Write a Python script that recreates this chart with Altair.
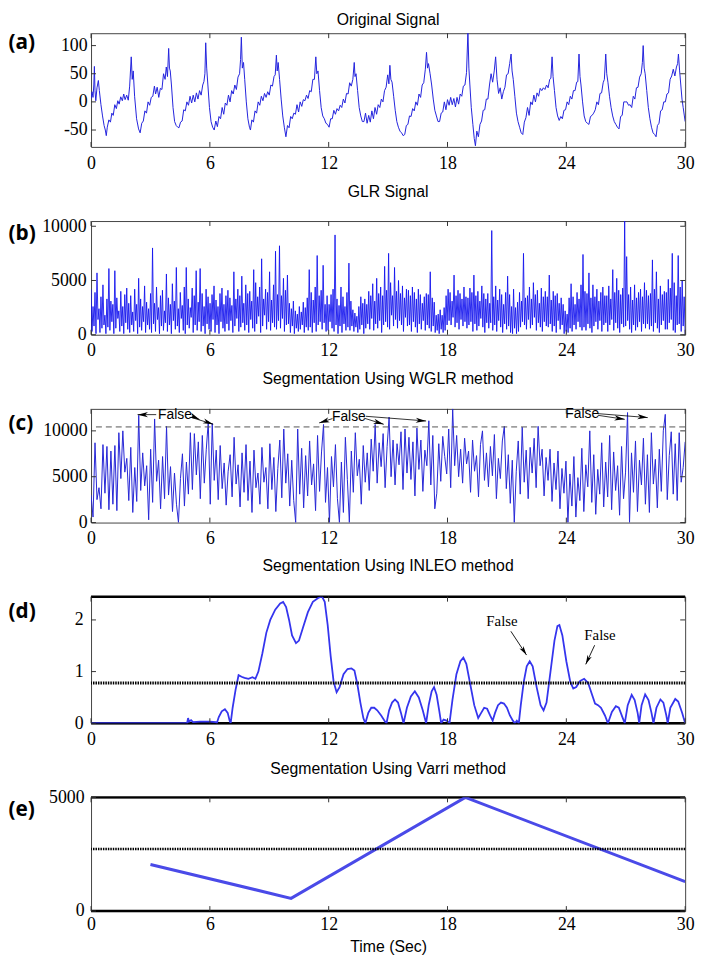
import altair as alt
import numpy as np
import pandas as pd

W = 601
X_TICKS = [0, 6, 12, 18, 24, 30]

# ---------------- (a) Original signal: [time s, amplitude] ----------------
ORIGINAL = [
    [0.00, 5], [0.05, 18], [0.10, 8], [0.14, 30], [0.17, 63], [0.20, 20], [0.24, 2], [0.30, 25], [0.37, 38], [0.42, 20],
    [0.50, -5], [0.58, -25], [0.66, -42], [0.72, -50], [0.77, -60], [0.82, -45], [0.90, -32], [0.98, -36], [1.05, -20],
    [1.12, -24], [1.20, -5], [1.28, -12], [1.35, 2], [1.42, -4], [1.50, 9], [1.58, 2], [1.65, 14], [1.72, 4], [1.80, 12],
    [1.88, 3], [1.95, 28], [2.03, 80], [2.08, 40], [2.13, 55], [2.20, 10], [2.30, -30], [2.40, -48], [2.48, -55],
    [2.56, -38], [2.64, -34], [2.72, -16], [2.80, -20], [2.88, 0], [2.96, -6], [3.04, 8], [3.12, 10], [3.20, 28],
    [3.26, 14], [3.34, 26], [3.42, 8], [3.50, 24], [3.58, 22], [3.66, 50], [3.74, 40], [3.80, 62], [3.86, 45],
    [3.92, 95], [3.96, 60], [4.00, 55], [4.06, 30], [4.14, -10], [4.22, -35], [4.30, -42], [4.38, -45], [4.44, -46],
    [4.52, -36], [4.60, -34], [4.68, -14], [4.76, -16], [4.84, 0], [4.92, -6], [5.00, 10], [5.08, -2], [5.16, 12],
    [5.24, 0], [5.32, 16], [5.40, 5], [5.48, 20], [5.56, 12], [5.64, 30], [5.70, 36], [5.75, 50], [5.79, 105],
    [5.84, 60], [5.90, 30], [5.98, -10], [6.06, -35], [6.14, -45], [6.22, -50],
    [6.30, -34], [6.38, -44], [6.46, -26], [6.54, -30], [6.62, -10], [6.70, -22], [6.78, -2], [6.86, -6], [6.94, 12],
    [7.02, 0], [7.10, 20], [7.18, 14], [7.26, 30], [7.34, 22], [7.42, 44], [7.50, 50], [7.55, 75], [7.59, 115],
    [7.64, 60], [7.70, 70], [7.76, 40], [7.84, 0], [7.92, -30], [8.00, -45], [8.05, -50],
    [8.12, -32], [8.20, -36], [8.28, -16], [8.36, -20], [8.44, 0], [8.52, -6], [8.60, 10], [8.68, 2], [8.76, 15],
    [8.84, 8], [8.92, 18], [9.00, 12], [9.08, 30], [9.16, 28], [9.24, 45], [9.30, 48], [9.36, 83], [9.40, 55],
    [9.45, 70], [9.52, 40], [9.60, 5], [9.68, -25], [9.76, -45], [9.84, -62],
    [9.92, -42], [10.00, -46], [10.08, -26], [10.16, -30], [10.24, -20], [10.32, -22], [10.40, -5], [10.48, -18],
    [10.56, 0], [10.64, -8], [10.72, 4], [10.80, 2], [10.88, 12], [10.96, 6], [11.04, 20], [11.12, 18], [11.20, 40],
    [11.28, 40], [11.35, 80], [11.40, 50], [11.46, 55], [11.54, 20], [11.62, -10], [11.70, -25], [11.78, -30],
    [11.86, -38], [11.94, -40], [12.02, -45],
    [12.10, -30], [12.18, -30], [12.26, -15], [12.34, -22], [12.42, -12], [12.50, -16], [12.58, -6], [12.66, -10],
    [12.74, 5], [12.82, -2], [12.90, 15], [12.98, 14], [13.06, 34], [13.14, 28], [13.22, 40], [13.29, 70], [13.33, 45],
    [13.38, 50], [13.46, 20], [13.54, -10], [13.62, -25], [13.70, -35], [13.78, -35],
    [13.86, -20], [13.94, -38], [14.02, -24], [14.10, -36], [14.18, -16], [14.26, -30], [14.34, -10], [14.42, -22],
    [14.50, -5], [14.58, -10], [14.66, 5], [14.74, 0], [14.82, 20], [14.90, 26], [14.98, 48], [15.04, 32], [15.09, 65],
    [15.14, 40], [15.20, 35], [15.28, 10], [15.36, -15], [15.44, -35], [15.52, -45], [15.60, -52], [15.68, -55],
    [15.76, -60], [15.84, -58],
    [15.92, -42], [16.00, -40], [16.08, -25], [16.16, -26], [16.24, -12], [16.32, -16], [16.40, 0], [16.48, -6],
    [16.56, 14], [16.64, 8], [16.72, 30], [16.80, 34], [16.88, 58], [16.94, 88], [16.99, 60], [17.04, 68],
    [17.12, 50], [17.20, 30], [17.28, 5], [17.36, -15], [17.44, -25], [17.52, -35], [17.60, -35],
    [17.68, -20], [17.76, -18], [17.84, 0], [17.92, -14], [18.00, 4], [18.08, -6], [18.16, 8], [18.24, -5], [18.32, 6],
    [18.40, -9], [18.48, 8], [18.56, -4], [18.64, 14], [18.72, 10], [18.80, 28], [18.88, 30], [18.96, 52], [19.03, 125],
    [19.08, 60], [19.13, 30], [19.20, -10], [19.28, -40], [19.35, -65], [19.41, -78],
    [19.48, -52], [19.56, -62], [19.64, -40], [19.72, -34], [19.80, -15], [19.88, -14], [19.96, 5], [20.04, 5],
    [20.12, 30], [20.20, 50], [20.28, 35], [20.36, 55], [20.43, 80], [20.50, 40], [20.58, 15], [20.66, 25], [20.74, 5],
    [20.82, 18], [20.90, 26], [20.98, 48], [21.06, 50], [21.14, 68], [21.21, 85], [21.26, 55], [21.32, 40],
    [21.40, 10], [21.48, -20], [21.56, -35], [21.64, -45], [21.72, -55], [21.80, -58],
    [21.88, -36], [21.96, -28], [22.04, -10], [22.12, -24], [22.20, 0], [22.28, -5], [22.36, 12], [22.44, 0],
    [22.52, 16], [22.60, 10], [22.68, 24], [22.76, 20], [22.84, 25], [22.92, 22], [23.00, 30], [23.08, 25], [23.16, 40],
    [23.22, 42], [23.28, 80], [23.33, 45], [23.40, 20], [23.48, -10], [23.56, -25], [23.64, -33],
    [23.72, -26], [23.80, -30], [23.88, -15], [23.96, -14], [24.04, 0], [24.12, -5], [24.20, 10], [24.28, 5],
    [24.36, 20], [24.44, 20], [24.52, 35], [24.58, 36], [24.64, 85], [24.69, 45], [24.74, 30], [24.82, 0],
    [24.90, -25], [24.98, -35], [25.06, -38], [25.14, -40],
    [25.22, -26], [25.30, -24], [25.38, -20], [25.46, -14], [25.54, 0], [25.62, -5], [25.70, 15], [25.78, 16],
    [25.86, 34], [25.92, 40], [25.99, 85], [26.04, 50], [26.10, 35], [26.18, 10], [26.26, -10], [26.34, -25],
    [26.42, -35], [26.50, -40], [26.58, -45], [26.66, -48],
    [26.74, -26], [26.82, -24], [26.90, 0], [26.98, 0], [27.06, 0], [27.14, -6], [27.22, -5], [27.30, -10],
    [27.38, 10], [27.46, 5], [27.54, 25], [27.62, 26], [27.70, 44], [27.78, 50], [27.84, 70], [27.88, 100],
    [27.93, 60], [27.98, 50], [28.06, 20], [28.14, -10], [28.22, -30], [28.30, -45], [28.38, -55], [28.46, -58],
    [28.53, -62],
    [28.60, -42], [28.68, -38], [28.76, -16], [28.84, -14], [28.92, 0], [29.00, 0], [29.08, 14], [29.16, 16],
    [29.24, 40], [29.32, 46], [29.40, 58], [29.48, 46], [29.56, 62], [29.62, 68], [29.66, 85], [29.72, 55],
    [29.78, 30], [29.84, 5], [29.90, -10], [29.96, -25], [30.00, -35],
]

# ---------------- (b) GLR signal, 20 samples per second ----------------
GLR = [
    4200, 300, 2600, 800, 3900, 100, 5700, 1400, 2400, 200, 3500, 600, 4600, 900, 1800, 100, 3300, 700, 6100, 400,
    3100, 1200, 2800, 100, 5900, 600, 3400, 1500, 2200, 300, 4000, 800, 2600, 100, 3700, 1100, 4300, 500, 2900, 200,
    3600, 900, 2100, 300, 4200, 1300, 2800, 100, 5200, 700, 3300, 400, 2600, 1200, 4500, 200, 3000, 900, 2400, 500,
    3800, 200, 8000, 1000, 2900, 300, 4400, 1400, 2500, 100, 3600, 800, 4100, 400, 2200, 1100, 5600, 300, 3400, 900,
    2800, 100, 4700, 1300, 3100, 500, 6200, 800, 2400, 200, 3900, 1500, 2700, 400, 4400, 100, 6200, 900, 3300, 600,
    2500, 1600, 4300, 200, 3600, 900, 5900, 400, 3000, 1200, 6100, 300, 3800, 800, 2600, 100, 4200, 1000, 3500, 500,
    2900, 300, 3700, 1400, 4500, 200, 3200, 900, 2600, 100, 3800, 1200, 4300, 600, 2800, 300, 3600, 1000, 4100, 400,
    3400, 1300, 2700, 200, 5800, 800, 3300, 1500, 4200, 300, 3600, 700, 5400, 1100, 2900, 400, 4600, 900, 3800, 200,
    4000, 1400, 3100, 600, 6000, 300, 4800, 1000, 3500, 1700, 4400, 200, 7000, 800, 3300, 1800, 4200, 500, 3900, 1200,
    5800, 400, 3200, 1100, 4600, 700, 7700, 500, 3700, 1300, 8200, 600, 3600, 1500, 5200, 300, 4100, 900, 5500, 1000,
    2900, 200, 2400, 800, 3100, 100, 2200, 600, 1900, 300, 2600, 500, 2100, 900, 3000, 200, 2500, 700, 3400, 400,
    6000, 700, 3900, 200, 3200, 1100, 4400, 300, 7300, 900, 3600, 1200, 4100, 500, 6400, 1100, 2800, 300, 3600, 400,
    2800, 1200, 3700, 600, 4200, 300, 9200, 900, 3300, 100, 2700, 800, 4400, 200, 3500, 1000, 2600, 400, 3900, 700,
    6600, 400, 3100, 800, 2300, 300, 2000, 700, 1700, 200, 2600, 500, 3500, 900, 2900, 100, 3300, 600, 2800, 1000,
    4000, 500, 3600, 1500, 4700, 400, 3100, 1000, 5200, 600, 3800, 1300, 4400, 200, 3600, 900, 6300, 1200, 4100, 700,
    7500, 500, 4800, 1800, 3600, 800, 6200, 1400, 4000, 600, 5000, 1300, 3800, 900, 4500, 300, 3400, 1600, 4200, 800,
    4100, 900, 3600, 300, 4400, 1200, 3900, 700, 3300, 200, 4200, 1000, 3700, 500, 2900, 1300, 3500, 400, 3800, 900,
    3700, 600, 5800, 300, 3400, 800, 3000, 200, 1800, 400, 1900, 100, 2300, 500, 1800, 200, 2500, 400, 3600, 900,
    4200, 1300, 3900, 900, 3100, 1600, 5500, 700, 3600, 1100, 4100, 500, 3800, 1400, 3300, 800, 4400, 1200, 3500, 600,
    3400, 900, 4300, 1200, 3900, 300, 5500, 1000, 3600, 400, 4000, 800, 3100, 1500, 4500, 700, 3800, 200, 3300, 1100,
    3800, 600, 2900, 1100, 9600, 400, 3500, 900, 4500, 300, 3200, 1300, 4200, 700, 3700, 200, 2800, 1000, 3900, 500,
    5400, 800, 3700, 200, 2600, 100, 4200, 600, 2500, 100, 3000, 300, 3900, 700, 3100, 1200, 7500, 900, 3400, 500,
    3600, 1400, 4400, 600, 3300, 900, 4800, 1600, 3700, 400, 4100, 1100, 2900, 700, 4300, 300, 3500, 1200, 4000, 800,
    3500, 700, 5500, 1000, 3200, 300, 4000, 800, 3600, 200, 3800, 1300, 2900, 500, 3400, 900, 2800, 100, 2200, 300,
    1900, 200, 3400, 600, 4700, 300, 3500, 900, 2800, 500, 3900, 1200, 3300, 700, 4600, 400, 7400, 700, 4000, 400,
    3800, 1000, 5700, 600, 3400, 200, 4600, 800, 3500, 1200, 4200, 500, 3100, 1300, 3900, 300, 4400, 900, 3600, 1100,
    3600, 300, 4500, 900, 3300, 1400, 6000, 400, 3900, 1100, 5200, 600, 4100, 200, 3700, 1000, 4300, 700, 10500, 800,
    7200, 1300, 3700, 500, 4400, 200, 3200, 900, 4600, 400, 3400, 700, 3900, 1200, 4200, 300, 3500, 1000, 4800, 600,
    4100, 1000, 3600, 500, 3800, 800, 6900, 300, 4200, 1100, 5800, 600, 3300, 200, 4500, 900, 3700, 1300, 4000, 500,
    3900, 500, 5100, 1100, 4300, 1400, 7500, 400, 4800, 200, 3600, 900, 7300, 1000, 4400, 300, 5000, 800, 3500, 0,
]

# ---------------- (c) WGLR segmentation, 10 samples per second ----------------
WGLR = [
    3000, 600, 8700, 2500, 3800, 1500, 8500, 3200, 8300, 1400,
    7800, 2000, 8400, 1300, 9800, 4800, 10000, 5500, 7000, 2400,
    8200, 1100, 6000, 2300, 11700, 3500, 7600, 4000, 6200, 300,
    8000, 2200, 11300, 4500, 6800, 1500, 7200, 2600, 10500, 3000,
    6100, 1200, 5400, 2000, 0, 4800, 7500, 1800, 6600, 3100,
    9800, 3600, 9700, 5200, 8800, 2600, 9500, 4300, 8000, 11000,
    2000, 10800, 4600, 7900, 2500, 8400, 3700, 6500, 1900, 5600,
    7400, 2800, 9300, 4200, 6300, 1700, 7600, 3300, 8500, 2400,
    6700, 1100, 7900, 3800, 5400, 2000, 8200, 4400, 6000, 1500,
    8600, 3600, 7100, 1200, 5900, 9000, 2700, 10200, 4300, 7500,
    1800, 6800, 2400, 0, 10200, 3100, 8100, 1600, 7300, 2900,
    8900, 4100, 6400, 1300, 9500, 3400, 7700, 10700, 2200, 6000,
    0, 7200, 3900, 8500, 2600, 0, 6600, 1100, 9300, 4700,
    0, 7800, 3300, 9800, 5100, 6900, 2000, 8400, 4400, 7600,
    3500, 9100, 5600, 10700, 4300, 8700, 6100, 9700, 3800, 8300,
    11500, 5000, 9000, 4100, 8600, 6300, 9900, 3600, 10200, 5400,
    9300, 4700, 8800, 2900, 10300, 5800, 9000, 3400, 7900, 6200,
    11100, 4100, 9500, 1500, 3200, 8600, 4500, 9400, 7200, 5300,
    10200, 3800, 12400, 6200, 9500, 5000, 8000, 4300, 9200, 6400,
    7800, 3300, 9000, 5600, 7300, 2800, 8500, 10000, 4600, 7600,
    3900, 8300, 5100, 9600, 2600, 7000, 4800, 8900, 10500, 3700,
    7400, 2100, 6800, 0, 5600, 8900, 3100, 10400, 4400, 7900,
    2600, 8200, 5400, 9200, 3800, 10500, 6200, 8000, 2900, 7100,
    4600, 8000, 2300, 6500, 3600, 7800, 1500, 5900, 3200, 6700,
    0, 5300, 1800, 7200, 600, 4900, 2400, 8100, 1200, 6300,
    3900, 10000, 2200, 7400, 900, 5800, 3100, 8700, 1700, 6600,
    2800, 9500, 1400, 7700, 3500, 6200, 800, 8300, 2600, 5500,
    12000, 0, 7600, 3300, 8900, 1200, 6800, 4100, 9200, 2000,
    7400, 1100, 9800, 4200, 6900, 1600, 8000, 3400, 10000, 11800,
    2500, 7300, 9900, 3100, 8600, 2400, 9800, 4400, 6000, 8800,
]
WGLR_THRESHOLD = 10430

# annotations (c): label position, and arrows [t_tail, v_tail, t_tip, v_tip, angle_deg]
C_LABELS_T = [4.24, 13.02, 24.80]
C_LABELS_V = [11771, 11510, 11880]
C_ARROWS = [
    [3.29, 11771, 2.35, 11771, 180],
    [5.09, 11620, 5.48, 11230, 25],
    [5.09, 11450, 6.17, 10720, 19],
    [12.19, 11340, 11.52, 10870, 162],
    [13.77, 11400, 14.78, 10720, 17],
    [13.88, 11590, 16.92, 11080, 4],
    [25.59, 11700, 26.95, 11260, 8],
    [25.59, 11880, 28.11, 11450, 5],
]

# ---------------- (d) INLEO segmentation ----------------
INLEO = [
    [0, 0], [4.85, 0], [4.9, 0.1], [4.95, 0.03], [5.05, 0.06], [5.15, 0.02], [5.5, 0.03], [6.0, 0.03], [6.3, 0.02],
    [6.35, 0], [6.45, 0.12], [6.6, 0.23], [6.76, 0.27], [6.9, 0.2], [7.0, 0.05], [7.05, 0],
    [7.15, 0.3], [7.3, 0.65], [7.45, 0.93], [7.6, 0.9], [7.75, 0.88], [7.95, 0.86], [8.15, 0.89], [8.3, 0.86],
    [8.45, 1.0], [8.65, 1.35], [8.85, 1.75], [9.05, 2.0], [9.3, 2.2], [9.55, 2.32], [9.7, 2.35], [9.85, 2.25],
    [10.0, 2.0], [10.15, 1.7], [10.35, 1.55], [10.5, 1.6], [10.7, 1.85], [10.95, 2.15], [11.2, 2.35], [11.45, 2.42],
    [11.65, 2.46], [11.8, 2.35], [11.95, 1.9], [12.1, 1.3], [12.25, 0.8], [12.4, 0.6], [12.55, 0.7], [12.75, 0.95],
    [12.95, 1.05], [13.15, 1.06], [13.3, 1.02], [13.45, 0.75], [13.6, 0.4], [13.75, 0.1], [13.85, 0],
    [14.0, 0.2], [14.15, 0.3], [14.3, 0.3], [14.45, 0.25], [14.65, 0.15], [14.85, 0.03], [14.92, 0],
    [15.05, 0.25], [15.2, 0.4], [15.35, 0.46], [15.5, 0.4], [15.65, 0.2], [15.78, 0],
    [15.95, 0.3], [16.15, 0.52], [16.35, 0.62], [16.55, 0.5], [16.75, 0.25], [16.92, 0],
    [17.05, 0.35], [17.2, 0.62], [17.32, 0.7], [17.45, 0.55], [17.58, 0.25], [17.68, 0], [17.8, 0.07],
    [17.95, 0.05], [18.1, 0.0],
    [18.25, 0.45], [18.45, 0.95], [18.65, 1.2], [18.8, 1.27], [18.95, 1.15], [19.15, 0.75], [19.35, 0.35],
    [19.55, 0.1], [19.7, 0.2], [19.85, 0.3], [20.0, 0.28], [20.15, 0.15], [20.28, 0.05],
    [20.4, 0.2], [20.55, 0.35], [20.7, 0.4], [20.85, 0.38], [21.0, 0.3], [21.15, 0.15], [21.3, 0.05], [21.4, 0],
    [21.5, 0.05], [21.6, 0],
    [21.7, 0.35], [21.85, 0.8], [22.0, 1.1], [22.15, 1.2], [22.3, 1.1], [22.5, 0.7], [22.7, 0.35], [22.85, 0.25],
    [23.0, 0.4], [23.2, 1.0], [23.4, 1.6], [23.55, 1.88], [23.65, 1.9], [23.8, 1.7], [24.0, 1.2], [24.2, 0.8],
    [24.35, 0.67], [24.5, 0.7], [24.7, 0.82], [24.9, 0.86], [25.1, 0.78], [25.3, 0.55], [25.45, 0.38], [25.6, 0.35],
    [25.75, 0.3], [25.95, 0.15], [26.1, 0],
    [26.3, 0.22], [26.5, 0.33], [26.65, 0.3], [26.85, 0.1], [26.95, 0],
    [27.1, 0.35], [27.3, 0.55], [27.45, 0.45], [27.6, 0.2], [27.68, 0],
    [27.8, 0.35], [27.98, 0.56], [28.15, 0.45], [28.3, 0.2], [28.4, 0],
    [28.55, 0.3], [28.75, 0.46], [28.9, 0.4], [29.05, 0.15], [29.12, 0],
    [29.25, 0.3], [29.5, 0.47], [29.65, 0.42], [29.85, 0.2], [30.0, 0],
]
INLEO_THRESHOLD = 0.78
D_LABELS_T = [20.75, 25.70]
D_LABELS_V = [1.97, 1.71]
D_ARROWS = [
    [21.20, 1.78, 21.99, 1.32, 57],
    [25.43, 1.51, 24.98, 1.14, 115],
]

# ---------------- (e) Varri segmentation ----------------
VARRI_T = [3.0, 10.1, 18.9, 30.0]
VARRI_V = [2050, 560, 5000, 1290]
VARRI_THRESHOLD = 2730

ARROW_PATH = "M0,0L-2,-0.5L-1.45,0L-2,0.5Z"
TICK_COLOR = "#333333"
SERIF = "Liberation Serif"
SANS = "Liberation Sans"


def label_expr():
    return "datum.value < 0 ? '-' + (-datum.value) : '' + datum.value"


def panel(line_df, ydom, yticks, H, title, title_dy, label, label_y,
          ylab_pad=4, xlab_pad=7.5, xtitle=None, line_color="#1f1fdd",
          line_width=1.0, extras=(), thick_frame=False):
    xs = alt.Scale(domain=[0, 30], nice=False, zero=False)
    ys = alt.Scale(domain=ydom, nice=False, zero=False)
    common = dict(labelExpr=label_expr(), labelFont=SERIF, labelFontSize=18, labelColor="black",
                  labelOverlap=False, domain=False, ticks=False, grid=False)
    xaxis_kw = dict(values=X_TICKS, labelPadding=xlab_pad, labelFlush=False, **common)
    if xtitle:
        xaxis_kw.update(title=xtitle, titleFont=SANS, titleFontSize=16,
                        titleFontWeight="normal", titleColor="black", titleY=36,
                        titleBaseline="middle")
    else:
        xaxis_kw.update(title=None)
    xax = alt.Axis(**xaxis_kw)
    yax = alt.Axis(values=yticks, labelPadding=ylab_pad, title=label, titleAngle=0, titleX=-84,
                   titleY=label_y, titleAlign="left", titleBaseline="middle", titleFont="Open Sans",
                   titleFontWeight="bold", titleFontSize=21, titleColor="black", **common)
    X = alt.X("t:Q", scale=xs, axis=xax)
    Y = alt.Y("v:Q", scale=ys, axis=yax)

    one = alt.Data(values=[{"txt": title}])
    layers = []
    if thick_frame:
        layers += [
            alt.Chart(one).mark_rule(color="black", strokeWidth=2.5).encode(
                x=alt.value(0), x2=alt.value(W), y=alt.value(0)),
            alt.Chart(one).mark_rule(color="black", strokeWidth=2.5).encode(
                x=alt.value(0), x2=alt.value(W), y=alt.value(H)),
        ]
    layers.append(
        alt.Chart(line_df).mark_line(color=line_color, strokeWidth=line_width, clip=True)
        .encode(x=X, y=Y, order="i:Q")
    )
    for ex in extras:
        layers.append(ex(X, Y))

    xt = pd.DataFrame({"t": X_TICKS})
    yt = pd.DataFrame({"v": yticks})
    layers += [
        alt.Chart(xt).mark_rule(color=TICK_COLOR, strokeWidth=1).encode(x=X, y=alt.value(H), y2=alt.value(H - 5)),
        alt.Chart(xt).mark_rule(color=TICK_COLOR, strokeWidth=1).encode(x=X, y=alt.value(0), y2=alt.value(5)),
        alt.Chart(yt).mark_rule(color=TICK_COLOR, strokeWidth=1).encode(y=Y, x=alt.value(0), x2=alt.value(5)),
        alt.Chart(yt).mark_rule(color=TICK_COLOR, strokeWidth=1).encode(y=Y, x=alt.value(W - 5), x2=alt.value(W)),
    ]
    # panel heading, as a text mark above the plot area
    layers.append(
        alt.Chart(one).mark_text(font=SANS, fontSize=16, color="black", align="center",
                                 baseline="alphabetic")
        .encode(x=alt.value(W / 2), y=alt.value(-title_dy), text="txt:N")
    )
    return alt.layer(*layers).properties(width=W, height=H)


# ---- data frames
df_a = pd.DataFrame(ORIGINAL, columns=["t", "v"])
df_a["i"] = range(len(df_a))
df_b = pd.DataFrame({"t": np.linspace(0, 30, len(GLR)), "v": GLR})
df_b["i"] = range(len(df_b))
df_c = pd.DataFrame({"t": np.linspace(0, 30, len(WGLR)), "v": WGLR})
df_c["i"] = range(len(df_c))
df_d = pd.DataFrame(INLEO, columns=["t", "v"])
df_d["i"] = range(len(df_d))
df_e = pd.DataFrame({"t": VARRI_T, "v": VARRI_V})
df_e["i"] = range(len(df_e))

c_lab = pd.DataFrame({"t": C_LABELS_T, "v": C_LABELS_V, "txt": ["False"] * 3})
c_arr = pd.DataFrame(C_ARROWS, columns=["t", "v", "t2", "v2", "ang"])
c_tip = pd.DataFrame({"t": c_arr["t2"], "v": c_arr["v2"], "ang": c_arr["ang"]})
d_lab = pd.DataFrame({"t": D_LABELS_T, "v": D_LABELS_V, "txt": ["False"] * 2})
d_arr = pd.DataFrame(D_ARROWS, columns=["t", "v", "t2", "v2", "ang"])
d_tip = pd.DataFrame({"t": d_arr["t2"], "v": d_arr["v2"], "ang": d_arr["ang"]})


def thr(value, dash, width, color):
    return lambda X, Y: alt.Chart(pd.DataFrame({"v": [value]})).mark_rule(
        color=color, strokeDash=dash, strokeWidth=width).encode(y=Y)


def labels(df, font, size, weight="normal"):
    return lambda X, Y: alt.Chart(df).mark_text(
        font=font, fontSize=size, fontWeight=weight, color="black", baseline="middle", align="center"
    ).encode(x=X, y=Y, text="txt:N")


def arrow_lines(df, width):
    return lambda X, Y: alt.Chart(df).mark_rule(color="black", strokeWidth=width).encode(
        x=X, y=Y, x2="t2:Q", y2="v2:Q")


def arrow_heads(df, size):
    return lambda X, Y: alt.Chart(df).mark_point(
        shape=ARROW_PATH, filled=True, color="black", size=size, opacity=1, strokeWidth=0
    ).encode(x=X, y=Y, angle=alt.Angle("ang:Q", scale=None))


pa = panel(df_a, [-80, 122], [-50, 0, 50, 100], 115, "Original Signal", 8, "(a)", 9.5,
           line_color="#2222dd", line_width=1.0)
pb = panel(df_b, [0, 10480], [0, 5000, 10000], 115, "GLR Signal", 24, "(b)", 13,
           ylab_pad=5, line_color="#1414ee", line_width=0.9)
pc = panel(df_c, [0, 12400], [0, 5000, 10000], 115, "Segmentation Using WGLR method", 25.5, "(c)", 14.5,
           line_color="#2626d6", line_width=1.0,
           extras=[thr(WGLR_THRESHOLD, [6, 4], 1, "#555555"),
                   arrow_lines(c_arr, 0.8), arrow_heads(c_tip, 110),
                   labels(c_lab, SANS, 14)])
pd_ = panel(df_d, [0, 2.45], [0, 1, 2], 128, "Segmentation Using INLEO method", 26, "(d)", 15.5,
            ylab_pad=8, line_color="#3535ee", line_width=1.8, thick_frame=True,
            extras=[thr(INLEO_THRESHOLD, [1.5, 1], 3, "black"),
                    arrow_lines(d_arr, 0.9), arrow_heads(d_tip, 90),
                    labels(d_lab, SERIF, 15)])
pe = panel(df_e, [0, 5000], [0, 5000], 115, "Segmentation Using Varri method", 23.6, "(e)", 12,
           ylab_pad=7, xlab_pad=4.5, xtitle="Time (Sec)", line_color="#4a4ae8", line_width=3,
           thick_frame=True,
           extras=[thr(VARRI_THRESHOLD, [1.5, 1], 2.5, "black")])

chart = alt.vconcat(pa, pb, pc, pd_, pe, spacing=75, bounds="flush").configure_view(
    stroke="#444444", strokeWidth=1
).properties(
    autosize=alt.AutoSizeParams(type="none"),
    padding={"left": 84, "top": 20, "right": 14, "bottom": 932},
    background="white",
)

chart.save("out.html", embed_options={"renderer": "svg", "actions": False})
